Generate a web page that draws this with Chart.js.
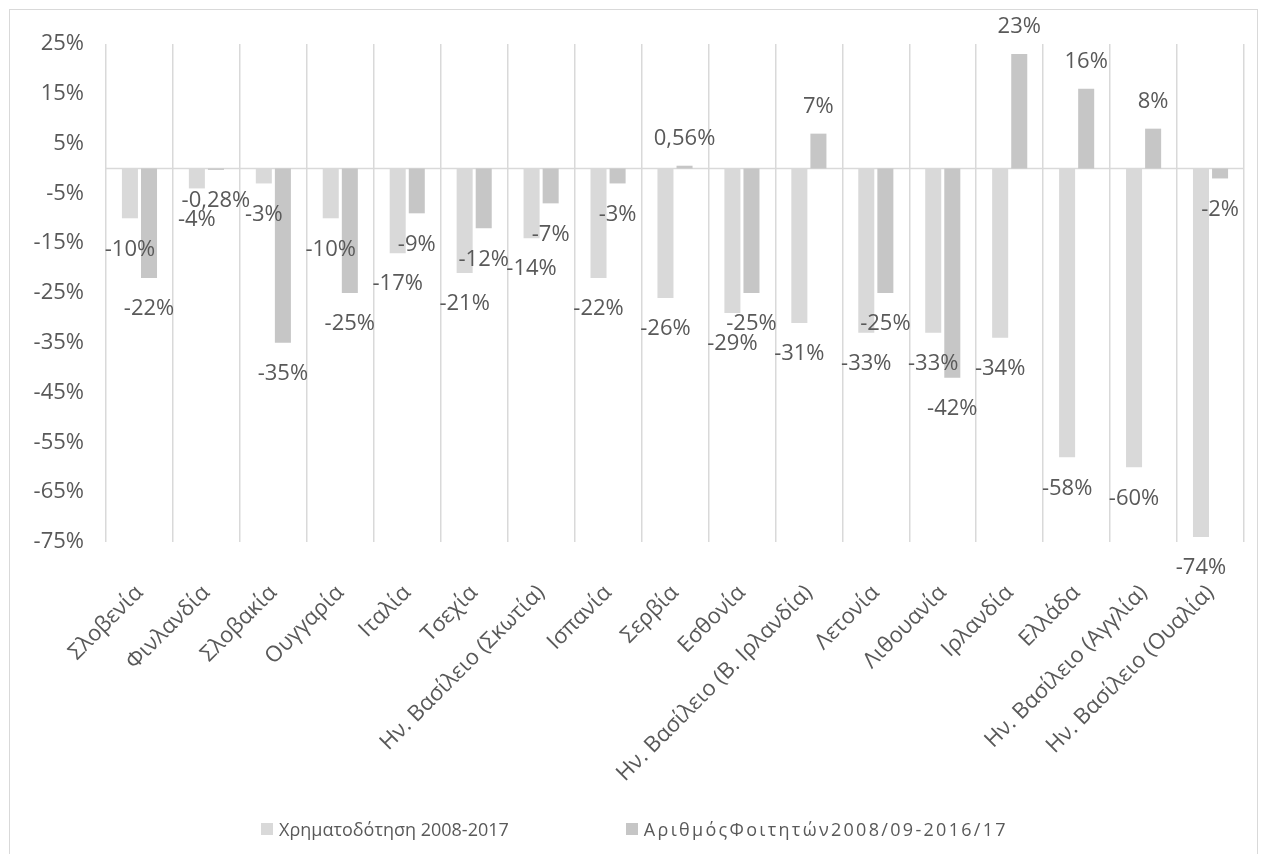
<!DOCTYPE html>
<html>
<head>
<meta charset="utf-8">
<script src="https://cdn.jsdelivr.net/npm/chart.js@4.4.1/dist/chart.umd.min.js"></script>
<style>
  body { margin: 0; background: #fff; }
  #wrap { position: relative; width: 1269px; height: 854px; overflow: hidden; }
  #frame { position: absolute; left: 9px; top: 9px; width: 1249px; height: 870px; border: 1.5px solid #d9d9d9; box-sizing: border-box; }
  #myChart { position: absolute; left: 0; top: 0; }
  #legend { position: absolute; left: 0; top: 817px; width: 1269px; display: flex; justify-content: center; gap: 117px;
            font-family: 'Open Sans', sans-serif; font-size: 18px; color: #595959; }
  .item { display: flex; align-items: center; }
  .box { width: 12px; height: 12px; margin-right: 6px; }
</style>
</head>
<body>
<div id="wrap">
  <div id="frame"></div>
  <canvas id="myChart" width="1269" height="854"></canvas>
  <div id="legend"></div>
</div>
<script>
// data
const countries = ['Σλοβενία', 'Φινλανδία', 'Σλοβακία', 'Ουγγαρία', 'Ιταλία', 'Τσεχία',
  'Ην. Βασίλειο (Σκωτία)', 'Ισπανία', 'Σερβία', 'Εσθονία', 'Ην. Βασίλειο (Β. Ιρλανδία)',
  'Λετονία', 'Λιθουανία', 'Ιρλανδία', 'Ελλάδα', 'Ην. Βασίλειο (Αγγλία)', 'Ην. Βασίλειο (Ουαλία)'];
const funding = [-10, -4, -3, -10, -17, -21, -14, -22, -26, -29, -31, -33, -33, -34, -58, -60, -74];
const students = [-22, -0.28, -35, -25, -9, -12, -7, -3, 0.56, -25, 7, -25, -42, 23, 16, 8, -2];
const seriesNames = ['Χρηματοδότηση 2008-2017', 'ΑριθμόςΦοιτητών2008/09-2016/17'];
const seriesColors = ['#d9d9d9', '#c6c6c6'];

const txtColor = '#595959';

// legend (html)
const legendDiv = document.getElementById('legend');
seriesNames.forEach(function(name, i){
  const it = document.createElement('div');
  it.className = 'item';
  const sp = i == 1 ? 'letter-spacing:2.3px' : '';
  it.innerHTML = '<span class="box" style="background:' + seriesColors[i] + '"></span><span style="' + sp + '">' + name + '</span>';
  legendDiv.appendChild(it);
});

function fmt(v){
  return String(v).replace('.', ',') + '%';
}

// zero line
const zeroLine = {
  id: 'zeroLine',
  beforeDatasetsDraw(chart){
    const ctx = chart.ctx;
    const y = chart.scales.y.getPixelForValue(0);
    ctx.save();
    ctx.strokeStyle = '#d9d9d9';
    ctx.lineWidth = 1.5;
    ctx.beginPath();
    ctx.moveTo(chart.chartArea.left, y);
    ctx.lineTo(chart.chartArea.right, y);
    ctx.stroke();
    ctx.restore();
  }
};

// value labels
const valueLabels = {
  id: 'valueLabels',
  afterDatasetsDraw(chart){
    const ctx = chart.ctx;
    ctx.save();
    ctx.font = '22px "Open Sans"';
    ctx.fillStyle = txtColor;
    ctx.textAlign = 'center';
    ctx.textBaseline = 'middle';
    chart.data.datasets.forEach(function(ds, i){
      chart.getDatasetMeta(i).data.forEach(function(bar, j){
        const v = ds.data[j];
        const y = v < 0 ? bar.y + 31 : bar.y - 27;
        ctx.fillText(fmt(v), bar.x, y);
      });
    });
    ctx.restore();
  }
};

const data = {
  labels: countries,
  datasets: [
    { label: seriesNames[0], data: funding, backgroundColor: seriesColors[0],
      categoryPercentage: 0.57, barPercentage: 0.84 },
    { label: seriesNames[1], data: students, backgroundColor: seriesColors[1],
      categoryPercentage: 0.57, barPercentage: 0.84 }
  ]
};

const config_bar = {
  type: 'bar',
  data,
  options: {
    responsive: false,
    animation: false,
    layout: { padding: { top: 44, right: 25, left: 0, bottom: 0 } },
    plugins: {
      legend: { display: false },
      tooltip: { enabled: false }
    },
    scales: {
      x: {
        grid: { color: '#d9d9d9', lineWidth: 1.5, drawTicks: false },
        border: { display: false },
        ticks: {
          color: txtColor,
          font: { family: 'Open Sans', size: 22 },
          maxRotation: 45, minRotation: 45,
          padding: 38,
          autoSkip: false
        },
        afterFit(scale){ scale.height = 312; }
      },
      y: {
        min: -75, max: 25,
        grid: { display: false },
        border: { display: false },
        ticks: {
          stepSize: 10,
          color: txtColor,
          font: { family: 'Open Sans', size: 22 },
          padding: 14,
          callback: function(v){ return v + '%'; }
        },
        afterFit(scale){ scale.width = 106; }
      }
    }
  },
  plugins: [zeroLine, valueLabels]
};

const myChart = new Chart(document.getElementById('myChart'), config_bar);
</script>
</body>
</html>
